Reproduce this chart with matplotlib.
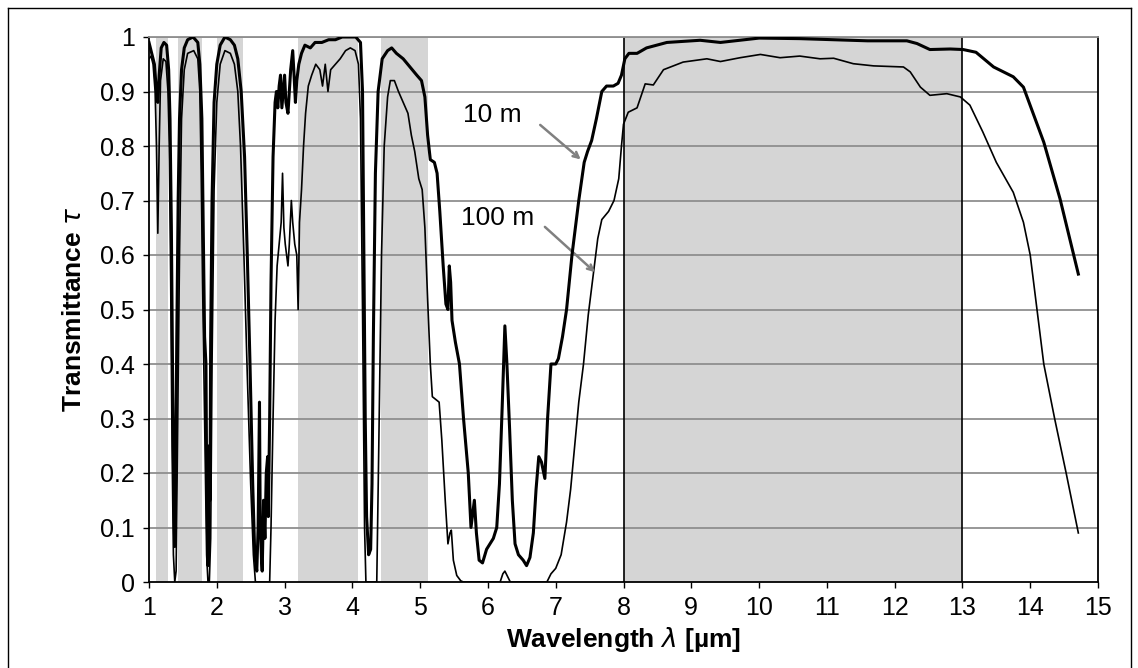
"""
Atmospheric transmittance over 1-15 um for 10 m and 100 m path lengths.
"""

import matplotlib.pyplot as plt
from matplotlib.lines import Line2D

plt.rcParams['font.family'] = ['Liberation Sans', 'DejaVu Sans']

# atmospheric windows (um)
windows = [(1.11, 1.28), (1.43, 1.78), (2.0, 2.39), (3.2, 4.09), (4.42, 5.11), (8.0, 13.0)]

# 10 m path (thick curve)
x_10m = [1.00, 1.04, 1.08, 1.11, 1.13, 1.15, 1.18, 1.22, 1.26, 1.29, 1.31, 1.33, 1.35, 1.37, 1.38,
         1.39, 1.41, 1.43, 1.45, 1.48, 1.52, 1.57, 1.65, 1.72, 1.75, 1.78, 1.80, 1.82, 1.84, 1.85,
         1.87, 1.88, 1.89, 1.90, 1.91, 1.93, 1.96, 2.00, 2.05, 2.12, 2.20, 2.26, 2.31, 2.36, 2.41,
         2.45, 2.49, 2.53, 2.56, 2.59, 2.61, 2.63, 2.64, 2.66, 2.67, 2.69, 2.71, 2.73, 2.75, 2.76,
         2.78, 2.80, 2.83, 2.86, 2.88, 2.90, 2.92, 2.94, 2.96, 2.98, 3.00, 3.02, 3.05, 3.07, 3.09,
         3.12, 3.14, 3.16, 3.18, 3.21, 3.25, 3.30, 3.38, 3.45, 3.55, 3.65, 3.75, 3.85, 3.95, 4.05,
         4.12, 4.15, 4.17, 4.19, 4.21, 4.24, 4.27, 4.29, 4.31, 4.34, 4.38, 4.44, 4.52, 4.58, 4.65,
         4.75, 4.85, 4.95, 5.02, 5.07, 5.11, 5.15, 5.21, 5.25, 5.29, 5.34, 5.38, 5.41, 5.43, 5.45,
         5.47, 5.52, 5.58, 5.64, 5.71, 5.75, 5.78, 5.80, 5.83, 5.87, 5.92, 5.98, 6.03, 6.08, 6.13,
         6.17, 6.21, 6.25, 6.28, 6.32, 6.36, 6.40, 6.45, 6.52, 6.57, 6.62, 6.67, 6.71, 6.75, 6.79,
         6.84, 6.88, 6.93, 7.00, 7.04, 7.10, 7.16, 7.24, 7.34, 7.42, 7.47, 7.53, 7.60, 7.68, 7.75,
         7.85, 7.92, 7.97, 8.02, 8.08, 8.20, 8.34, 8.64, 9.13, 9.43, 10.0, 10.6, 11.1, 11.6, 12.18,
         12.33, 12.52, 12.82, 13.01, 13.2, 13.46, 13.75, 13.9, 14.2, 14.44, 14.71]
t_10m = [0.99, 0.97, 0.95, 0.90, 0.88, 0.93, 0.98, 0.99, 0.985, 0.94, 0.85, 0.65, 0.35, 0.12, 0.065,
         0.15, 0.45, 0.70, 0.85, 0.94, 0.98, 0.995, 1.00, 0.99, 0.95, 0.85, 0.65, 0.45, 0.40, 0.20,
         0.03, 0.10, 0.25, 0.15, 0.45, 0.70, 0.88, 0.95, 0.985, 1.00, 0.995, 0.985, 0.96, 0.90, 0.78,
         0.60, 0.40, 0.18, 0.05, 0.02, 0.10, 0.33, 0.12, 0.04, 0.02, 0.15, 0.08, 0.20, 0.23, 0.12,
         0.30, 0.55, 0.78, 0.88, 0.90, 0.87, 0.91, 0.93, 0.87, 0.90, 0.93, 0.88, 0.86, 0.90, 0.94,
         0.975, 0.93, 0.88, 0.92, 0.95, 0.97, 0.985, 0.98, 0.99, 0.99, 0.995, 0.995, 1.00, 1.00, 1.00,
         0.99, 0.90, 0.60, 0.30, 0.12, 0.05, 0.06, 0.18, 0.45, 0.75, 0.90, 0.96, 0.975, 0.98, 0.97,
         0.96, 0.945, 0.93, 0.92, 0.89, 0.82, 0.775, 0.77, 0.75, 0.68, 0.58, 0.51, 0.50, 0.58, 0.55,
         0.48, 0.44, 0.40, 0.30, 0.20, 0.10, 0.13, 0.15, 0.09, 0.04, 0.035, 0.06, 0.07, 0.08, 0.10,
         0.18, 0.32, 0.47, 0.40, 0.28, 0.15, 0.07, 0.05, 0.04, 0.03, 0.045, 0.09, 0.17, 0.23, 0.22,
         0.19, 0.30, 0.40, 0.40, 0.41, 0.45, 0.50, 0.60, 0.70, 0.77, 0.79, 0.81, 0.85, 0.90, 0.91,
         0.91, 0.915, 0.93, 0.96, 0.97, 0.97, 0.98, 0.99, 0.994, 0.99, 0.998, 0.997, 0.995, 0.993, 0.993,
         0.988, 0.977, 0.978, 0.977, 0.972, 0.945, 0.927, 0.908, 0.807, 0.703, 0.565]

# 100 m path (thin curve)
x_100m = [1.00, 1.03, 1.06, 1.09, 1.11, 1.13, 1.15, 1.17, 1.21, 1.25, 1.28, 1.30, 1.32, 1.34, 1.36,
          1.38, 1.40, 1.42, 1.45, 1.48, 1.52, 1.57, 1.66, 1.72, 1.75, 1.77, 1.79, 1.81, 1.83, 1.85,
          1.87, 1.89, 1.91, 1.93, 1.96, 2.00, 2.05, 2.12, 2.20, 2.26, 2.31, 2.35, 2.40, 2.45, 2.50,
          2.54, 2.57, 2.78, 2.80, 2.83, 2.86, 2.89, 2.92, 2.95, 2.97, 2.99, 3.01, 3.03, 3.05, 3.07,
          3.10, 3.12, 3.15, 3.18, 3.20, 3.22, 3.25, 3.28, 3.31, 3.35, 3.40, 3.46, 3.52, 3.56, 3.60,
          3.64, 3.68, 3.75, 3.82, 3.90, 3.97, 4.04, 4.09, 4.12, 4.15, 4.18, 4.20, 4.36, 4.39, 4.43,
          4.47, 4.52, 4.56, 4.62, 4.68, 4.75, 4.82, 4.87, 4.92, 4.98, 5.03, 5.07, 5.11, 5.15, 5.18,
          5.28, 5.32, 5.37, 5.41, 5.44, 5.46, 5.49, 5.54, 5.60, 5.64, 6.18, 6.22, 6.25, 6.29, 6.33,
          6.87, 6.93, 7.00, 7.08, 7.16, 7.22, 7.28, 7.34, 7.41, 7.48, 7.55, 7.62, 7.68, 7.78, 7.86,
          7.93, 7.97, 8.00, 8.07, 8.20, 8.32, 8.44, 8.59, 8.88, 9.23, 9.43, 9.72, 10.02, 10.31, 10.6,
          10.9, 11.1, 11.39, 11.69, 12.13, 12.23, 12.38, 12.52, 12.77, 12.97, 13.11, 13.3, 13.5, 13.75,
          13.9, 14.0, 14.2, 14.36, 14.53, 14.71]
t_100m = [0.96, 0.965, 0.95, 0.90, 0.80, 0.64, 0.80, 0.92, 0.96, 0.955, 0.90, 0.80, 0.55, 0.25, 0.05,
          0.00, 0.02, 0.25, 0.60, 0.85, 0.94, 0.97, 0.975, 0.96, 0.90, 0.75, 0.55, 0.38, 0.20, 0.05,
          0.00, 0.00, 0.08, 0.40, 0.72, 0.88, 0.95, 0.975, 0.97, 0.95, 0.90, 0.80, 0.60, 0.38, 0.18,
          0.05, 0.00, 0.00, 0.10, 0.30, 0.48, 0.58, 0.62, 0.66, 0.75, 0.65, 0.62, 0.60, 0.58, 0.62,
          0.70, 0.66, 0.62, 0.60, 0.50, 0.66, 0.72, 0.80, 0.86, 0.91, 0.93, 0.95, 0.94, 0.91, 0.95,
          0.90, 0.94, 0.95, 0.96, 0.975, 0.98, 0.975, 0.95, 0.85, 0.50, 0.10, 0.00, 0.00, 0.25, 0.60,
          0.80, 0.89, 0.92, 0.92, 0.90, 0.88, 0.86, 0.82, 0.79, 0.74, 0.72, 0.65, 0.52, 0.40, 0.34,
          0.33, 0.26, 0.15, 0.07, 0.09, 0.095, 0.04, 0.012, 0.002, 0.00, 0.00, 0.015, 0.02, 0.01, 0.00,
          0.00, 0.015, 0.025, 0.05, 0.11, 0.17, 0.25, 0.33, 0.40, 0.49, 0.56, 0.63, 0.665, 0.68, 0.70,
          0.74, 0.80, 0.84, 0.862, 0.87, 0.914, 0.912, 0.94, 0.954, 0.96, 0.955, 0.962, 0.968, 0.962, 0.965,
          0.96, 0.961, 0.951, 0.947, 0.945, 0.936, 0.908, 0.893, 0.896, 0.89, 0.875, 0.826, 0.77, 0.715,
          0.66, 0.60, 0.40, 0.30, 0.20, 0.09]

x_ticks = list(range(1, 16))
y_ticks = [0, 0.1, 0.2, 0.3, 0.4, 0.5, 0.6, 0.7, 0.8, 0.9, 1]
y_ticklabels = ['0', '0.1', '0.2', '0.3', '0.4', '0.5', '0.6', '0.7', '0.8', '0.9', '1']

fig = plt.figure(figsize=(11.38, 6.68), dpi=100)
ax = fig.add_axes([149/1138, 1 - 582/668, (1098 - 149)/1138, (582 - 37)/668])

# shaded windows
for lo, hi in windows:
    ax.axvspan(lo, hi, color='#d5d5d5', lw=0, zorder=0)
ax.axvline(8, color='black', lw=1.2, zorder=2)
ax.axvline(13, color='black', lw=1.2, zorder=2)

# horizontal grid
for yv in y_ticks[1:]:
    ax.axhline(yv, color='#8f8f8f', lw=1.3, zorder=1)

ax.plot(x_100m, t_100m, color='black', lw=1.2, zorder=3)
ax.plot(x_10m, t_10m, color='black', lw=2.2, zorder=4)

# labels for the two path lengths
ax.text(6.07, 0.857, '10 m', fontsize=19, ha='center', va='center')
ax.text(6.15, 0.668, '100 m', fontsize=19, ha='center', va='center')
ax.annotate('', xy=(7.4, 0.772), xytext=(6.74, 0.842),
            arrowprops=dict(arrowstyle='->', color='#808080', lw=1.8))
ax.annotate('', xy=(7.61, 0.565), xytext=(6.81, 0.655),
            arrowprops=dict(arrowstyle='->', color='#808080', lw=1.8))

ax.set_xlim(1, 15)
ax.set_ylim(0, 1)
ax.set_xticks(x_ticks)
ax.set_yticks(y_ticks)
ax.set_yticklabels(y_ticklabels)
ax.tick_params(labelsize=18, direction='out', length=4, width=1)
ax.tick_params(axis='x', pad=6)
ax.tick_params(axis='y', pad=6)

for side in ['left', 'bottom', 'right']:
    ax.spines[side].set_color('black')
    ax.spines[side].set_linewidth(1.3)
ax.spines['top'].set_color('#8f8f8f')
ax.spines['top'].set_linewidth(1.3)

ax.set_xlabel(r'Wavelength $\lambda$ [µm]', fontsize=19, fontweight='bold', labelpad=4)
ax.set_ylabel(r'Transmittance $\tau$', fontsize=19, fontweight='bold', labelpad=10)

# outer frame
fig.add_artist(Line2D([0.007, 0.007], [0, 0.988], color='black', lw=1))
fig.add_artist(Line2D([0.007, 0.994], [0.988, 0.988], color='black', lw=1))
fig.add_artist(Line2D([0.994, 0.994], [0, 0.988], color='black', lw=1))

plt.savefig('out.png', dpi=100)
